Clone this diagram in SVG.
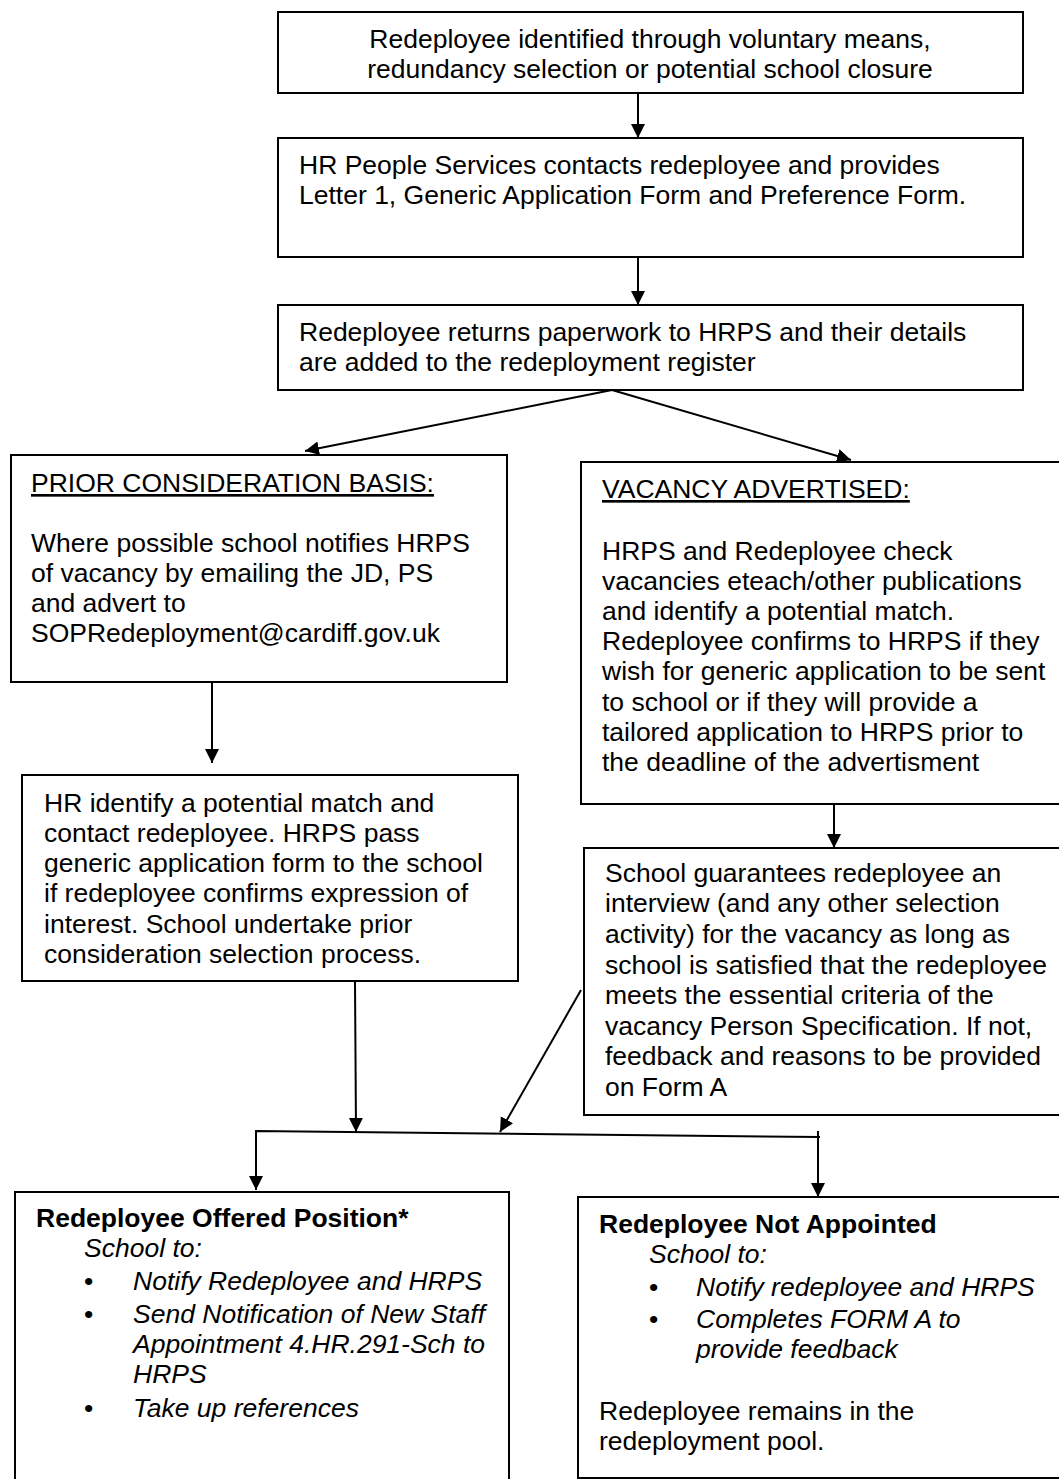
<svg xmlns="http://www.w3.org/2000/svg" width="1059" height="1479" viewBox="0 0 1059 1479">
<defs>
<marker id="ah" markerUnits="userSpaceOnUse" markerWidth="15" markerHeight="15" refX="14" refY="7" orient="auto">
<path d="M0,0 L14,7 L0,14 z" fill="#000"/>
</marker>
<style>
.box{fill:#fff;stroke:#000;stroke-width:2}
.t{font-family:"Liberation Sans",Arial,sans-serif;font-size:26.5px;fill:#000}
.c{text-anchor:middle}
.b{font-weight:bold}
.i{font-style:italic}
.u{text-decoration:underline}
.ln{fill:none;stroke:#000;stroke-width:2}
</style>
</defs>
<rect width="1059" height="1479" fill="#fff"/>

<g id="connectors">
<line class="ln" x1="638" y1="93" x2="638" y2="138" marker-end="url(#ah)"/>
<line class="ln" x1="638" y1="257" x2="638" y2="305" marker-end="url(#ah)"/>
<line class="ln" x1="612" y1="390" x2="305" y2="451" marker-end="url(#ah)"/>
<line class="ln" x1="612" y1="390" x2="851" y2="460" marker-end="url(#ah)"/>
<line class="ln" x1="212" y1="682" x2="212" y2="763" marker-end="url(#ah)"/>
<line class="ln" x1="834" y1="804" x2="834" y2="848" marker-end="url(#ah)"/>
<line class="ln" x1="355" y1="981" x2="356" y2="1132" marker-end="url(#ah)"/>
<line class="ln" x1="581" y1="990" x2="500" y2="1132" marker-end="url(#ah)"/>
<polyline class="ln" points="256,1189 256,1131 820,1137"/>
<line class="ln" x1="256" y1="1160" x2="256" y2="1190" marker-end="url(#ah)"/>
<line class="ln" x1="818" y1="1131" x2="818" y2="1197" marker-end="url(#ah)"/>
</g>

<g id="n1">
<rect class="box" x="278" y="12" width="745" height="81"/>
<text class="t c" x="650" y="48">Redeployee identified through voluntary means,</text>
<text class="t c" x="650" y="78">redundancy selection or potential school closure</text>
</g>

<g id="n2">
<rect class="box" x="278" y="138" width="745" height="119"/>
<text class="t" x="299" y="174">HR People Services contacts redeployee and provides</text>
<text class="t" x="299" y="204">Letter 1, Generic Application Form and Preference Form.</text>
</g>

<g id="n3">
<rect class="box" x="278" y="305" width="745" height="85"/>
<text class="t" x="299" y="341">Redeployee returns paperwork to HRPS and their details</text>
<text class="t" x="299" y="371">are added to the redeployment register</text>
</g>

<g id="n4">
<rect class="box" x="11" y="455" width="496" height="227"/>
<text class="t u" x="31" y="492">PRIOR CONSIDERATION BASIS:</text>
<text class="t" x="31" y="552">Where possible school notifies HRPS</text>
<text class="t" x="31" y="582">of vacancy by emailing the JD, PS</text>
<text class="t" x="31" y="612">and advert to</text>
<text class="t" x="31" y="642">SOPRedeployment@cardiff.gov.uk</text>
</g>

<g id="n5">
<rect class="box" x="22" y="775" width="496" height="206"/>
<text class="t" x="44" y="812">HR identify a potential match and</text>
<text class="t" x="44" y="842">contact redeployee. HRPS pass</text>
<text class="t" x="44" y="872">generic application form to the school</text>
<text class="t" x="44" y="902">if redeployee confirms expression of</text>
<text class="t" x="44" y="933">interest. School undertake prior</text>
<text class="t" x="44" y="963">consideration selection process.</text>
</g>

<g id="n6">
<rect class="box" x="581" y="462" width="482" height="342"/>
<text class="t u" x="602" y="498">VACANCY ADVERTISED:</text>
<text class="t" x="602" y="560">HRPS and Redeployee check</text>
<text class="t" x="602" y="590">vacancies eteach/other publications</text>
<text class="t" x="602" y="620">and identify a potential match.</text>
<text class="t" x="602" y="650">Redeployee confirms to HRPS if they</text>
<text class="t" x="602" y="680">wish for generic application to be sent</text>
<text class="t" x="602" y="711">to school or if they will provide a</text>
<text class="t" x="602" y="741">tailored application to HRPS prior to</text>
<text class="t" x="602" y="771">the deadline of the advertisment</text>
</g>

<g id="n7">
<rect class="box" x="584" y="848" width="479" height="267"/>
<text class="t" x="605" y="882">School guarantees redeployee an</text>
<text class="t" x="605" y="912">interview (and any other selection</text>
<text class="t" x="605" y="943">activity) for the vacancy as long as</text>
<text class="t" x="605" y="974">school is satisfied that the redeployee</text>
<text class="t" x="605" y="1004">meets the essential criteria of the</text>
<text class="t" x="605" y="1035">vacancy Person Specification. If not,</text>
<text class="t" x="605" y="1065">feedback and reasons to be provided</text>
<text class="t" x="605" y="1096">on Form A</text>
</g>

<g id="n8">
<rect class="box" x="15" y="1192" width="494" height="293"/>
<text class="t b" x="36" y="1227">Redeployee Offered Position*</text>
<text class="t i" x="84" y="1257">School to:</text>
<text class="t" x="84" y="1290">•</text>
<text class="t i" x="133" y="1290">Notify Redeployee and HRPS</text>
<text class="t" x="84" y="1323">•</text>
<text class="t i" x="133" y="1323">Send Notification of New Staff</text>
<text class="t i" x="133" y="1353">Appointment 4.HR.291-Sch to</text>
<text class="t i" x="133" y="1383">HRPS</text>
<text class="t" x="84" y="1417">•</text>
<text class="t i" x="133" y="1417">Take up references</text>
</g>

<g id="n9">
<rect class="box" x="578" y="1197" width="485" height="281"/>
<text class="t b" x="599" y="1233">Redeployee Not Appointed</text>
<text class="t i" x="649" y="1263">School to:</text>
<text class="t" x="649" y="1296">•</text>
<text class="t i" x="696" y="1296">Notify redeployee and HRPS</text>
<text class="t" x="649" y="1328">•</text>
<text class="t i" x="696" y="1328">Completes FORM A to</text>
<text class="t i" x="696" y="1358">provide feedback</text>
<text class="t" x="599" y="1420">Redeployee remains in the</text>
<text class="t" x="599" y="1450">redeployment pool.</text>
</g>
</svg>
